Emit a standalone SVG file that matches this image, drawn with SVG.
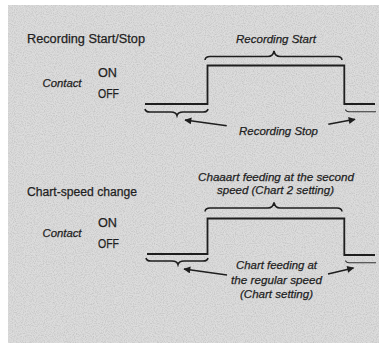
<svg xmlns="http://www.w3.org/2000/svg" width="379" height="343" viewBox="0 0 379 343">
<defs>
<filter id="grain" x="0" y="0" width="100%" height="100%">
<feTurbulence type="fractalNoise" baseFrequency="0.9" numOctaves="2" seed="3" result="n"/>
<feColorMatrix in="n" type="matrix" values="0 0 0 0 0  0 0 0 0 0  0 0 0 0 0  0 0 0 -0.9 0.55" result="a"/>
<feComposite in="a" in2="SourceGraphic" operator="in"/>
</filter>
<marker id="ah" viewBox="0 0 10 10" refX="9" refY="5" markerWidth="8" markerHeight="7" markerUnits="userSpaceOnUse" orient="auto">
<path d="M0,0 L10,5 L0,10 z" fill="#1e1e1e"/>
</marker>
</defs>
<style>
.t{font-family:"Liberation Sans",Arial,sans-serif;fill:#1e1e1e;stroke:#1e1e1e;stroke-width:0.25}
.h{font-size:12.5px}
.i{font-size:11.5px;font-style:italic;text-anchor:middle}
.c{font-size:11px;font-style:italic}
.sig{fill:none;stroke:#1e1e1e;stroke-width:1.8}
.br{fill:none;stroke:#1e1e1e;stroke-width:1.6}
.thin{fill:none;stroke:#333;stroke-width:1.1}
.ar{fill:none;stroke:#1e1e1e;stroke-width:1.5;marker-end:url(#ah)}
</style>
<rect x="0" y="0" width="379" height="343" fill="#ffffff"/>
<rect x="8" y="5" width="371" height="338" fill="#dcdcdc"/>
<rect x="8" y="5" width="371" height="338" fill="#ffffff" filter="url(#grain)" opacity="0.25"/>

<g id="title1"><text class="t h" x="27" y="43" textLength="118" lengthAdjust="spacingAndGlyphs">Recording Start/Stop</text></g>
<g id="contact1">
<text class="t c" x="42.5" y="86.5" textLength="39" lengthAdjust="spacingAndGlyphs">Contact</text>
<text class="t h" x="98" y="77" textLength="19" lengthAdjust="spacingAndGlyphs">ON</text>
<text class="t h" x="98" y="98" textLength="21" lengthAdjust="spacingAndGlyphs">OFF</text>
</g>
<g id="label-start"><text class="t i" x="276" y="43" textLength="80" lengthAdjust="spacingAndGlyphs">Recording Start</text></g>
<g id="label-stop"><text class="t i" x="278.5" y="135" textLength="79" lengthAdjust="spacingAndGlyphs">Recording Stop</text></g>

<g id="title2"><text class="t h" x="27" y="196" textLength="110" lengthAdjust="spacingAndGlyphs">Chart-speed change</text></g>
<g id="contact2">
<text class="t c" x="42.5" y="237" textLength="39" lengthAdjust="spacingAndGlyphs">Contact</text>
<text class="t h" x="98" y="227" textLength="19" lengthAdjust="spacingAndGlyphs">ON</text>
<text class="t h" x="98" y="248" textLength="21" lengthAdjust="spacingAndGlyphs">OFF</text>
</g>
<g id="label-second">
<text class="t i" x="276" y="180.5" textLength="156" lengthAdjust="spacingAndGlyphs">Chaaart feeding at the second</text>
<text class="t i" x="275.5" y="194" textLength="117" lengthAdjust="spacingAndGlyphs">speed (Chart 2 setting)</text>
</g>
<g id="label-regular">
<text class="t i" x="276.5" y="269" textLength="81" lengthAdjust="spacingAndGlyphs">Chart feeding at</text>
<text class="t i" x="276.5" y="283.5" textLength="91" lengthAdjust="spacingAndGlyphs">the regular speed</text>
<text class="t i" x="276.5" y="297.5" textLength="73" lengthAdjust="spacingAndGlyphs">(Chart setting)</text>
</g>

<g id="connectors">
<path class="sig" d="M145,104 H207.5 V65.5 H344.3 V104 H375"/>
<path class="br" d="M205,60 Q205.5,56.5 210,56.5 H268 Q273,56.5 274,51 Q275,56.5 280,56.5 H337 Q341.5,56.5 342,60"/>
<path class="br" d="M145,109 Q145.5,112 150,112 H171 Q176,112 177,115.5 Q178,112 183,112 H203 Q207.5,112 208,109"/>
<path class="thin" d="M345.5,109.5 Q346,111.7 349,111.7 H376"/>
<path class="ar" d="M226.7,125.7 L185,120"/>
<path class="ar" d="M328.3,124.3 L355,119.3"/>

<path class="sig" d="M147,254 H207.5 V218.5 H344.3 V255 H375"/>
<path class="br" d="M205,211.5 Q205.5,208 210,208 H268 Q273,208 274,202.5 Q275,208 280,208 H337 Q341.5,208 342,211.5"/>
<path class="br" d="M146,258 Q146.5,261 151,261 H172 Q177,261 178,264.5 Q179,261 184,261 H203 Q207.5,261 208,258"/>
<path class="thin" d="M345.5,260.5 Q346,262.7 349,262.7 H376"/>
<path class="ar" d="M227,275 L184,269"/>
<path class="ar" d="M328,274 L353.5,268"/>
</g>
</svg>
